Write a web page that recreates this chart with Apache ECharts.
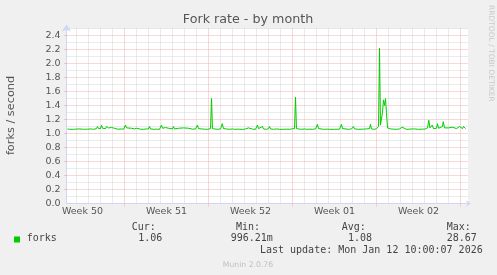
<!DOCTYPE html>
<html><head><meta charset="utf-8">
<script src="https://cdn.jsdelivr.net/npm/echarts@6/dist/echarts.min.js"></script>
<style>html,body{margin:0;padding:0;background:#f0f0f0}#c{width:497px;height:275px}</style>
</head><body><div id="c"></div>
<script>
// time in days since Mon 8 Dec 2025 00:00 (start of Week 50)
const days = [
2.25,2.42,2.58,2.75,2.92,3.0,3.08,3.17,3.25,3.33,3.5,3.67,3.75,3.83,3.92,4.08,4.25,4.42,4.58,4.67,
4.75,4.83,4.92,5.0,5.08,5.17,5.25,5.33,5.42,5.5,5.58,5.67,5.75,5.83,5.92,6.0,6.17,6.25,6.42,6.58,
6.75,6.92,7.0,7.08,7.17,7.25,7.33,7.58,7.67,7.83,8.0,8.08,8.33,8.58,8.83,9.0,9.08,9.17,9.42,9.67,
9.92,10.0,10.08,10.17,10.42,10.5,10.67,10.75,11.0,11.08,11.17,11.5,11.58,11.92,12.0,12.33,12.42,12.67,12.92,13.0,
13.08,13.17,13.42,13.67,13.92,14.08,14.17,14.25,14.33,14.5,14.75,15.0,15.08,15.14,15.25,15.5,15.75,16.0,16.08,16.17,
16.5,16.83,17.08,17.33,17.42,17.67,17.92,18.0,18.08,18.17,18.33,18.5,18.58,18.83,19.0,19.08,19.17,19.42,19.67,19.92,
20.08,20.25,20.5,20.75,20.92,21.0,21.08,21.17,21.25,21.33,21.5,21.75,22.0,22.08,22.17,22.33,22.42,22.67,22.92,23.0,
23.08,23.17,23.33,23.58,23.83,24.08,24.5,24.92,25.0,25.08,25.17,25.33,25.67,25.92,26.08,26.17,26.5,26.83,27.17,27.33,
27.42,27.5,27.58,27.83,28.0,28.08,28.17,28.25,28.33,28.42,28.5,28.58,28.67,28.75,28.83,28.92,29.0,29.17,29.42,29.67,
29.92,30.08,30.14,30.25,30.5,30.75,31.0,31.08,31.17,31.5,31.83,32.08,32.25,32.36,32.45,32.55,32.64,32.75,33.0,33.08,
33.17,33.33,33.5,33.56,33.67,33.83,34.0,34.08,34.33,34.42,34.67,34.83,34.92,35.0,35.08,35.17,35.25,35.33,35.42
];
const rate = [
1.065,1.06,1.065,1.06,1.062,1.065,1.08,1.065,1.075,1.06,1.062,1.06,1.065,1.08,1.062,1.06,1.065,1.06,1.065,1.07,
1.10,1.07,1.085,1.07,1.12,1.075,1.08,1.095,1.07,1.10,1.075,1.08,1.09,1.07,1.085,1.065,1.075,1.06,1.062,1.06,
1.065,1.06,1.07,1.12,1.08,1.09,1.065,1.075,1.06,1.065,1.075,1.06,1.062,1.06,1.065,1.065,1.10,1.065,1.06,1.062,
1.06,1.07,1.12,1.075,1.085,1.065,1.075,1.06,1.065,1.10,1.065,1.075,1.06,1.08,1.06,1.075,1.06,1.062,1.065,1.07,
1.12,1.07,1.065,1.062,1.06,1.065,1.07,1.50,1.07,1.065,1.06,1.065,1.10,1.14,1.07,1.065,1.06,1.065,1.075,1.06,
1.062,1.058,1.065,1.08,1.06,1.062,1.06,1.07,1.12,1.07,1.065,1.10,1.065,1.06,1.07,1.10,1.065,1.06,1.065,1.06,
1.07,1.06,1.062,1.06,1.065,1.075,1.09,1.07,1.52,1.07,1.065,1.06,1.065,1.075,1.06,1.08,1.062,1.06,1.065,1.07,
1.13,1.07,1.065,1.06,1.062,1.06,1.06,1.062,1.07,1.13,1.07,1.062,1.06,1.065,1.10,1.065,1.06,1.062,1.065,1.09,
1.07,1.13,1.065,1.06,1.07,1.08,1.10,2.22,1.12,1.10,1.30,1.48,1.40,1.50,1.30,1.08,1.07,1.065,1.062,1.06,
1.065,1.07,1.09,1.065,1.06,1.062,1.065,1.09,1.065,1.06,1.062,1.065,1.08,1.19,1.08,1.09,1.12,1.07,1.075,1.14,
1.075,1.07,1.10,1.17,1.08,1.07,1.08,1.065,1.09,1.065,1.07,1.08,1.10,1.08,1.085,1.07,1.10,1.08,1.07
];
const weekCenters = [3.5, 10.5, 17.5, 24.5, 31.5];
const weekLabels = ['Week 50', 'Week 51', 'Week 52', 'Week 01', 'Week 02'];
const yTickLabels = ['0.0','0.2','0.4','0.6','0.8','1.0','1.2','1.4','1.6','1.8','2.0','2.2','2.4'];
const seriesName = 'forks';
const legendHeads = ['Cur:', 'Min:', 'Avg:', 'Max:'];
const legendValues = ['1.06', '996.21m', '1.08', '28.67'];
const titleText = 'Fork rate - by month';
const yName = 'forks / second';
const lastUpdate = 'Last update: Mon Jan 12 10:00:07 2026';
const footer = 'Munin 2.0.76';
const sideText = 'RRDTOOL / TOBI OETIKER';

const X_MIN = 26 / 12, X_MAX = 427.5 / 12, Y_MIN = 0, Y_MAX = 2.5;
const GRAY = '#d6d6d6', RED = '#f0b0b0', AXIS = '#cfd6f8';

const dayLines = [], weekLines = [];
for (let d = Math.ceil(X_MIN); d <= Math.floor(X_MAX); d++) {
  (d % 7 === 0 ? weekLines : dayLines).push({ xAxis: d });
}
const minorH = [], majorH = [];
for (let k = 1; k <= 25; k++) {
  (k % 2 === 0 && k < 25 ? majorH : minorH).push({ yAxis: +(k / 10).toFixed(1) });
}
const yVals = yTickLabels.map(Number);
const pts = days.map((d, i) => [d, rate[i]]);

const mono = '"DejaVu Sans Mono", monospace';
const sans = '"DejaVu Sans", sans-serif';
function txt(x, y, s, font, fill, align, extra) {
  return Object.assign({ type: 'text', x: x, y: y, silent: true,
    style: { text: s, font: font, fill: fill, align: align || 'left', textAlign: align || 'left',
      verticalAlign: 'middle', textVerticalAlign: 'middle' } }, extra || {});
}
const legX = [131.7, 236, 341.7, 446.7];
const valX = [138.3, 230.7, 348, 446.7];
const graphics = [
  txt(248, 19.9, titleText, '12.7px ' + sans, '#555', 'center'),
  txt(11, 115.5, yName, '11.3px ' + sans, '#555', 'center', { rotation: Math.PI / 2 }),
  txt(491, 5, sideText, '7.5px ' + sans, '#c8c8c8', 'left', { rotation: -Math.PI / 2 }),
  { type: 'rect', silent: true, shape: { x: 14, y: 236.5, width: 6, height: 6 }, style: { fill: '#00cc00' } },
  txt(26.7, 238.8, seriesName, '10px ' + mono, '#444', 'left'),
  txt(482.7, 250.8, lastUpdate, '10px ' + mono, '#444', 'right'),
  txt(248, 264.6, footer, '7.7px ' + sans, '#c0c0c0', 'center')
];
legendHeads.forEach((h, i) => graphics.push(txt(legX[i], 227.8, h, '10px ' + mono, '#444', 'left')));
legendValues.forEach((v, i) => graphics.push(txt(valX[i], 238.8, v, '10px ' + mono, '#444', 'left')));

function gridSeries(data, color, z) {
  return { type: 'line', data: [], z: z, silent: true, animation: false,
    markLine: { silent: true, symbol: 'none', animation: false, label: { show: false },
      lineStyle: { color: color, width: 1, type: [1, 1] }, emphasis: { disabled: true }, data: data } };
}

const chart = echarts.init(document.getElementById('c'), null, { renderer: 'canvas' });
chart.setOption({
  backgroundColor: '#f0f0f0',
  animation: false,
  grid: { left: 66.5, top: 28.5, width: 401.5, height: 175, show: true, backgroundColor: '#ffffff', borderWidth: 0, containLabel: false },
  xAxis: [{
    type: 'value', min: X_MIN, max: X_MAX,
    axisLine: { show: true, lineStyle: { color: AXIS, width: 1 }, symbol: ['none', 'arrow'], symbolSize: [5, 5], symbolOffset: [0, 3] },
    axisTick: { show: true, customValues: weekLines.map(o => o.xAxis), length: 3, lineStyle: { color: RED, type: [1, 1] } },
    splitLine: { show: false },
    axisLabel: { customValues: weekCenters, margin: 3, color: '#555', fontFamily: sans, fontSize: 9.5,
      formatter: v => { const i = weekCenters.findIndex(c => Math.abs(c - v) < 1e-6); return i >= 0 ? weekLabels[i] : ''; } }
  }],
  yAxis: [{
    type: 'value', min: Y_MIN, max: Y_MAX,
    axisLine: { show: true, lineStyle: { color: AXIS, width: 1 }, symbol: ['none', 'arrow'], symbolSize: [7, 7], symbolOffset: [0, 4] },
    axisTick: { show: true, customValues: yVals.slice(1), length: 2, lineStyle: { color: RED } },
    splitLine: { show: false },
    axisLabel: { customValues: yVals, margin: 6, color: '#555', fontFamily: sans, fontSize: 9.5,
      formatter: v => { const i = yVals.findIndex(c => Math.abs(c - v) < 1e-6); return i >= 0 ? yTickLabels[i] : ''; } }
  }],
  series: [
    gridSeries(dayLines.concat(minorH), GRAY, 1),
    gridSeries(weekLines.concat(majorH), RED, 2),
    { name: seriesName, type: 'line', data: pts, z: 5, showSymbol: false, symbol: 'none', smooth: false,
      lineStyle: { color: '#00cc00', width: 1 }, itemStyle: { color: '#00cc00' }, silent: true, animation: false, clip: true }
  ],
  graphic: graphics
});
</script></body></html>
